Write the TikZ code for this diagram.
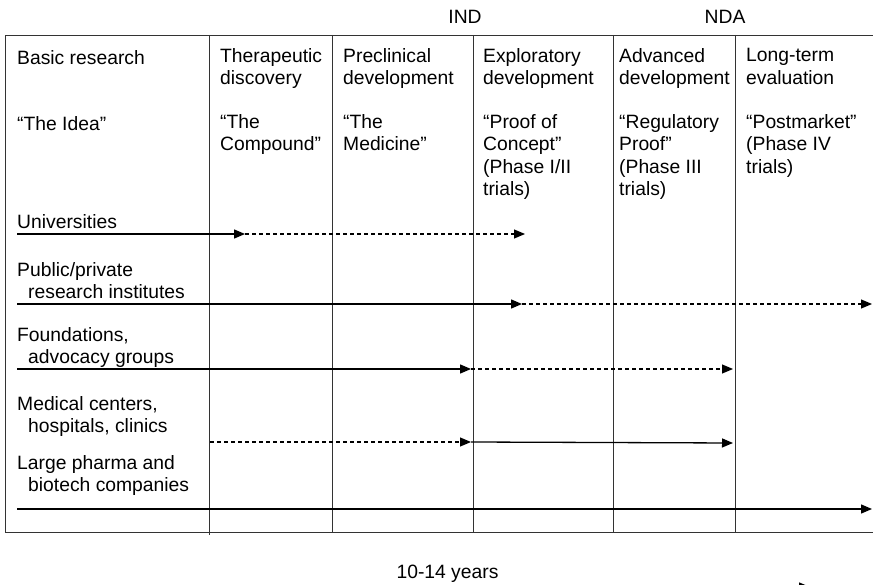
\documentclass[tikz,border=0pt]{standalone}
\usepackage{fontspec}
\setmainfont{Liberation Sans}
\usetikzlibrary{arrows.meta, positioning}
\tikzset{every picture/.style={x=1pt,y=-1pt}}

\begin{document}
\begin{tikzpicture}[line cap=butt,>={Triangle[length=11pt,width=9pt]}]
    \tikzstyle{every node}=[inner sep=0pt,align=left,
        font=\fontsize{19.3}{22.3}\selectfont]
    \tikzstyle{cell}=[anchor=north west,execute at begin node=\strut]
    \tikzstyle{grid}=[line width=0.8pt,black!80]
    \tikzstyle{flow}=[->,line width=1.3pt]
    \tikzstyle{maybe}=[->,line width=1.1pt,dash pattern=on 4pt off 3pt]

    \useasboundingbox (0,0) rectangle (873,585);
    \clip (0,0) rectangle (873,585);

    % frame and phase columns
    \draw[grid] (873,35) -- (5.5,35) -- (5.5,532) -- (873,532);
    \foreach \x in {332,473,613,735}
        \draw[grid] (\x,35) -- (\x,532);
    \draw[grid] (209,35) -- (209,535);

    % milestones
    \node[anchor=base] (ind) at (465,24) {IND};
    \node[anchor=base] (nda) at (725,24) {NDA};

    % phases (top = first baseline - strut height)
    \node[cell] (ph_1) at (17,48.4)  {Basic research};
    \node[cell] (ph_2) at (220,48.4) {Therapeutic\\discovery};
    \node[cell] (ph_3) at (343,48.4) {Preclinical\\development};
    \node[cell] (ph_4) at (483,48.4) {Exploratory\\development};
    \node[cell] (ph_5) at (619,48.4) {Advanced\\development};
    \node[cell] (ph_6) at (746,48.4) {Long-term\\evaluation};

    \node[cell] (nick_1) at (17,114.4)  {“The Idea”};
    \node[cell] (nick_2) at (220,114.4) {“The\\Compound”};
    \node[cell] (nick_3) at (343,114.4) {“The\\Medicine”};
    \node[cell] (nick_4) at (483,114.4) {“Proof of\\Concept”\\(Phase I/II\\trials)};
    \node[cell] (nick_5) at (619,114.4) {“Regulatory\\Proof”\\(Phase III\\trials)};
    \node[cell] (nick_6) at (746,114.4) {“Postmarket”\\(Phase IV\\trials)};

    % players
    \node[cell] (org_1) at (17,212.4) {Universities};
    \node[cell] (org_2) at (17,262.4) {Public/private\\\hspace*{11pt}research institutes};
    \node[cell] (org_3) at (17,327.4) {Foundations,\\\hspace*{11pt}advocacy groups};
    \node[cell] (org_4) at (17,396.4) {Medical centers,\\\hspace*{11pt}hospitals, clinics};
    \node[cell] (org_5) at (17,455.4) {Large pharma and\\\hspace*{11pt}biotech companies};

    \coordinate (u_0) at (17,234);  \coordinate (u_1) at (245,234);
    \coordinate (u_2) at (525,234);
    \coordinate (p_0) at (17,304);  \coordinate (p_1) at (522,304);
    \coordinate (p_2) at (872,304);
    \coordinate (f_0) at (17,369);  \coordinate (f_1) at (471,369);
    \coordinate (f_2) at (733,369);
    \coordinate (m_0) at (210,442); \coordinate (m_1) at (471,442);
    \coordinate (m_2) at (733,443);
    \coordinate (l_0) at (17,509);  \coordinate (l_1) at (872,509);

    \draw[flow]  (u_0) -- (u_1);
    \draw[maybe] (u_1) -- (u_2);
    \draw[flow]  (p_0) -- (p_1);
    \draw[maybe] (p_1) -- (p_2);
    \draw[flow]  (f_0) -- (f_1);
    \draw[maybe] (f_1) -- (f_2);
    \draw[maybe] (m_0) -- (m_1);
    \draw[flow]  (m_1) -- (m_2);
    \draw[flow]  (l_0) -- (l_1);

    % time line
    \node[anchor=base] (span) at (447.5,578) {10-14 years};
    \coordinate (t_0) at (700,587);
    \coordinate (t_1) at (810,587);
    \draw[flow] (t_0) -- (t_1);
\end{tikzpicture}
\end{document}
